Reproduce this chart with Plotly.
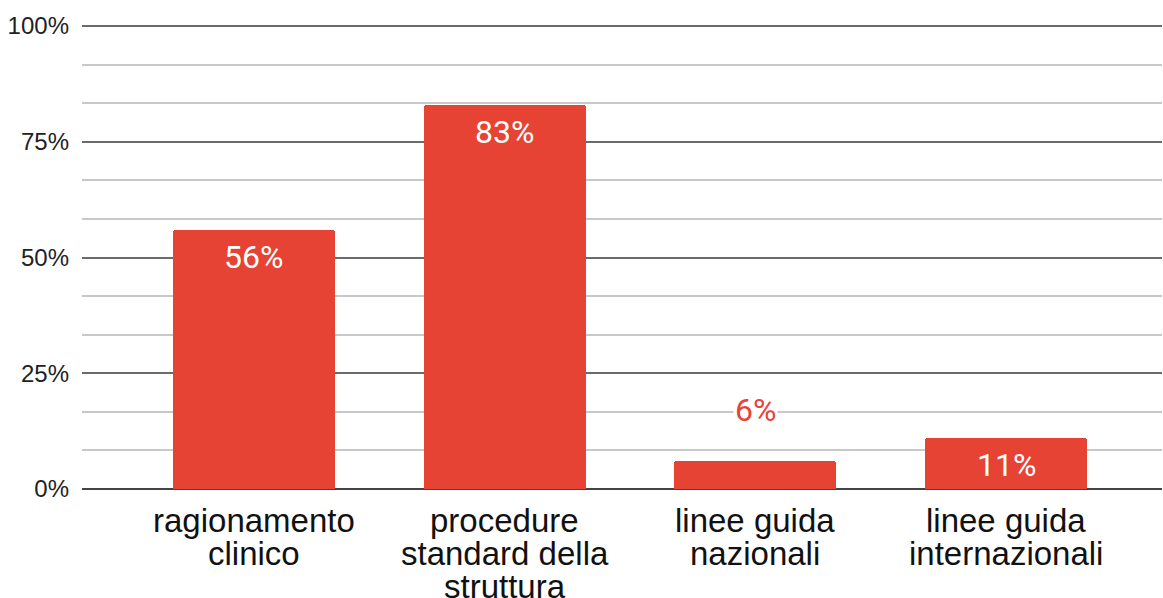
import plotly.graph_objects as go

# Survey results: share of respondents per reference source
categories = ["ragionamento clinico", "procedure standard della struttura",
              "linee guida nazionali", "linee guida internazionali"]
label_lines = [["ragionamento", "clinico"],
               ["procedure", "standard della", "struttura"],
               ["linee guida", "nazionali"],
               ["linee guida", "internazionali"]]
values = [0.56, 0.83, 0.06, 0.11]
y_ticks = [0, 0.25, 0.5, 0.75, 1.0]

BAR_RED = "#e64335"
x_pos = list(range(len(categories)))

fig = go.Figure(go.Bar(
    x=x_pos, y=values, width=0.646,
    marker=dict(color=BAR_RED, cornerradius=3, line=dict(width=0)),
    hoverinfo="skip",
))

annotations = []
# value labels: inside the bar top when it fits, above the bar otherwise
for x, v in zip(x_pos, values):
    inside = v >= 0.1
    annotations.append(dict(
        x=x, y=v, xref="x", yref="y", text=f"{v:.0%}", showarrow=False,
        yanchor="middle", yshift=-27 if inside else 51,
        font=dict(family="Roboto", size=32, color="white" if inside else BAR_RED),
        bgcolor=None if inside else "white",
    ))

# category labels, one annotation per line to keep a compact line spacing
for x, lines in zip(x_pos, label_lines):
    for i, line in enumerate(lines):
        annotations.append(dict(
            x=x, y=0, xref="x", yref="paper", text=line, showarrow=False,
            yanchor="middle", yshift=-31 - 33 * i,
            font=dict(family="Liberation Sans, Arial", size=33, color="#111"),
        ))

fig.update_layout(
    width=1163, height=598,
    margin=dict(l=82, r=1, t=24, b=109),
    paper_bgcolor="white", plot_bgcolor="white",
    showlegend=False, bargap=0,
    annotations=annotations,
    xaxis=dict(range=[-0.686, 3.622], showticklabels=False, showgrid=False,
               zeroline=False, showline=False, fixedrange=True),
    yaxis=dict(range=[0, 1.0045], tickvals=y_ticks, tickformat=".0%",
               showgrid=True, gridcolor="#6b6b6b", gridwidth=1.5,
               zeroline=True, zerolinecolor="#444", zerolinewidth=2,
               showline=False, ticks="", ticklabelstandoff=12,
               tickfont=dict(family="Liberation Sans, Arial", size=24, color="#222"),
               minor=dict(dtick=1/12, tick0=0, showgrid=True,
                          gridcolor="#c8c8c8", gridwidth=1.5, ticks=""),
               fixedrange=True),
)

fig.write_html("out.html")
